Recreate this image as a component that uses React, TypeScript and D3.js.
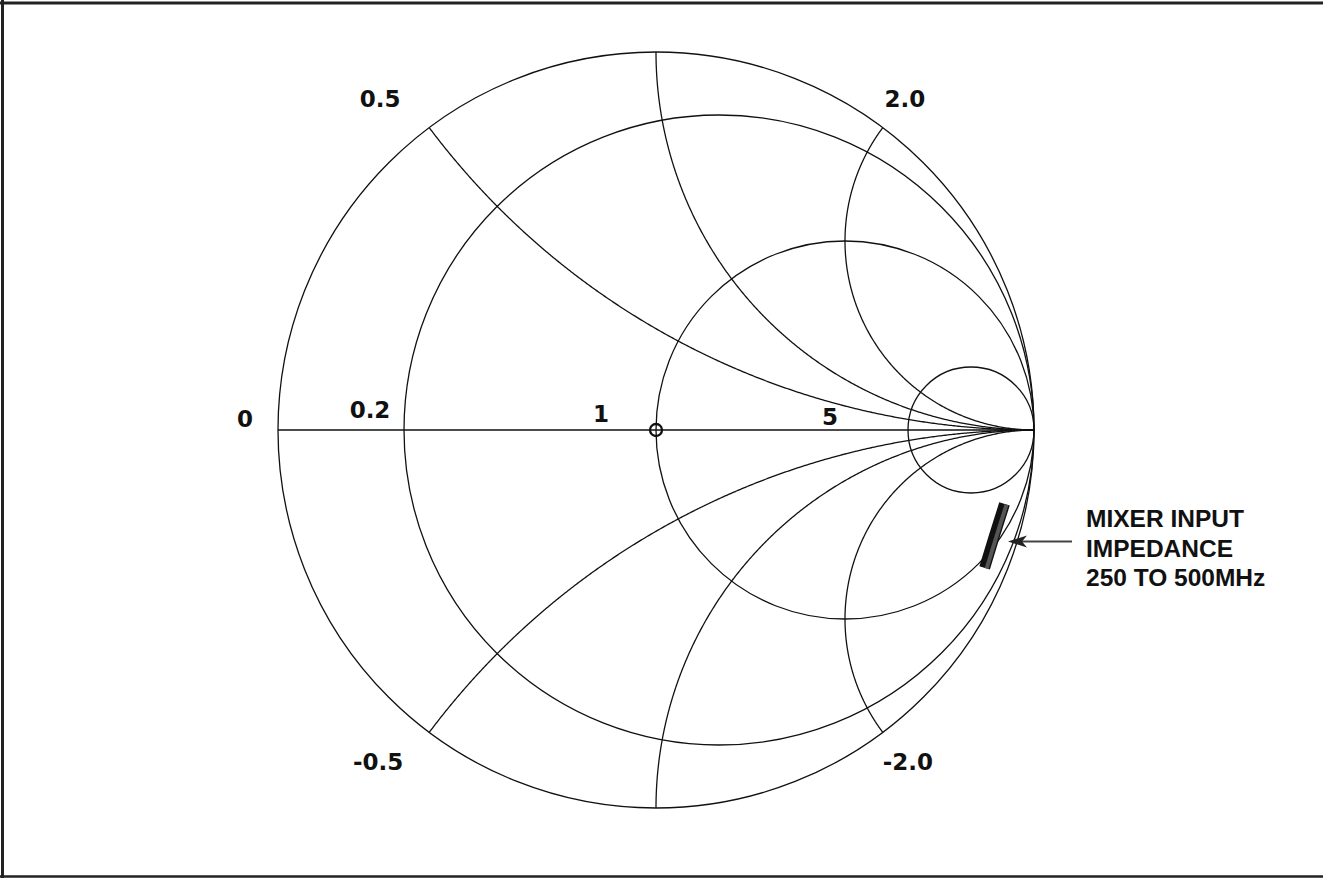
import React, { useMemo } from "react";
import * as d3 from "d3";

const W = 1323;
const H = 878;

// normalised resistance circles and reactance arcs
const resistances = [0, 0.2, 1, 5];
const reactances = [0.5, 1, 2, -0.5, -1, -2];

// chart labels
const resLabels = ["0", "0.2", "1", "5"];
const resLabelValues = [0, 0.2, 1, 5];
const reactLabels = ["0.5", "2.0", "-0.5", "-2.0"];
const reactLabelValues = [0.5, 2, -0.5, -2];

// mixer input impedance, ohms
const freqMHz = [250, 375, 500];
const resOhm = [126, 67, 37];
const reactOhm = [-441, -313, -243];
const z0 = 50;

const noteLines = ["MIXER INPUT", "IMPEDANCE", "250 TO 500MHz"];

// label nudges in px from their point on the chart
const resLabelNudge: [number, number][] = [[-33, -3], [-34, -12], [-55, -8], [-78, -5]];
const reactLabelNudge: [number, number][] = [[-49, -21], [22, -21], [-51, 38], [25, 38]];

// reflection coefficient of normalised z = r + jx
function gamma(r: number, x: number): [number, number] {
  const d = (r + 1) * (r + 1) + x * x;
  return [(r * r - 1 + x * x) / d, (2 * x) / d];
}

export default function App() {
  const cx = 656, cy = 430, R = 378;
  const sx = d3.scaleLinear().domain([-1, 1]).range([cx - R, cx + R]);
  const sy = d3.scaleLinear().domain([-1, 1]).range([cy + R, cy - R]);

  const line = d3.line<[number, number]>().x(d => sx(d[0])).y(d => sy(d[1]));

  const arcs = useMemo(() => reactances.map(x => {
    const pts: [number, number][] = d3.range(0, 1, 0.002).map(t => gamma(t / (1 - t), x));
    pts.push([1, 0]);
    return line(pts) as string;
  }), []);

  const trace = line(freqMHz.map((f, i) => gamma(resOhm[i] / z0, reactOhm[i] / z0))) as string;

  const stroke = "#111";
  const labelFont = "'DejaVu Sans', Verdana, sans-serif";
  const noteFont = "'Liberation Sans', Arial, Helvetica, sans-serif";

  return (
    <svg width={W} height={H} style={{ position: "absolute", left: 0, top: 0, background: "#fff" }}>
      {resistances.map(r => {
        const c = r / (1 + r);
        const rad = 1 / (1 + r);
        return (
          <circle key={"r" + r} cx={sx(c)} cy={sy(0)} r={sx(rad) - sx(0)}
            fill="none" stroke={stroke} strokeWidth={1.3} />
        );
      })}
      <line x1={sx(-1)} x2={sx(1)} y1={sy(0)} y2={sy(0)} stroke={stroke} strokeWidth={1.3} />
      {arcs.map((d, i) => (
        <path key={"x" + i} d={d} fill="none" stroke={stroke} strokeWidth={1.3} />
      ))}
      <circle cx={sx(0)} cy={sy(0)} r={6} fill="none" stroke={stroke} strokeWidth={2.3} />

      {/* impedance trace */}
      <path d={trace} fill="none" stroke="#111" strokeWidth={11} strokeLinecap="butt" />
      <path d={trace} fill="none" stroke="#555" strokeWidth={4} strokeLinecap="butt"
        transform="translate(2,0.6)" />

      {/* arrow */}
      <line x1={1072} x2={1020} y1={541.5} y2={541.5} stroke="#444" strokeWidth={2} />
      <path d="M1008,541.5 L1027,535.5 L1022,541.5 L1027,547.5 Z" fill="#222" />

      {resLabels.map((t, i) => {
        const g = gamma(resLabelValues[i], 0);
        return (
          <text key={t} x={sx(g[0]) + resLabelNudge[i][0]} y={sy(g[1]) + resLabelNudge[i][1]}
            textAnchor="middle" fontFamily={labelFont} fontWeight="bold" fontSize={23} fill="#111">{t}</text>
        );
      })}
      {reactLabels.map((t, i) => {
        const g = gamma(0, reactLabelValues[i]);
        return (
          <text key={t} x={sx(g[0]) + reactLabelNudge[i][0]} y={sy(g[1]) + reactLabelNudge[i][1]}
            textAnchor="middle" fontFamily={labelFont} fontWeight="bold" fontSize={23} fill="#111">{t}</text>
        );
      })}

      {noteLines.map((t, i) => (
        <text key={t} x={1086} y={527 + i * 29.5} fontFamily={noteFont} fontWeight="bold"
          fontSize={24.5} fill="#111">{t}</text>
      ))}

      {/* frame */}
      <line x1={0} x2={W} y1={3} y2={3} stroke="#222" strokeWidth={3} />
      <line x1={2.5} x2={2.5} y1={0} y2={H} stroke="#222" strokeWidth={3} />
      <line x1={0} x2={W} y1={876.5} y2={876.5} stroke="#222" strokeWidth={2.5} />
    </svg>
  );
}
